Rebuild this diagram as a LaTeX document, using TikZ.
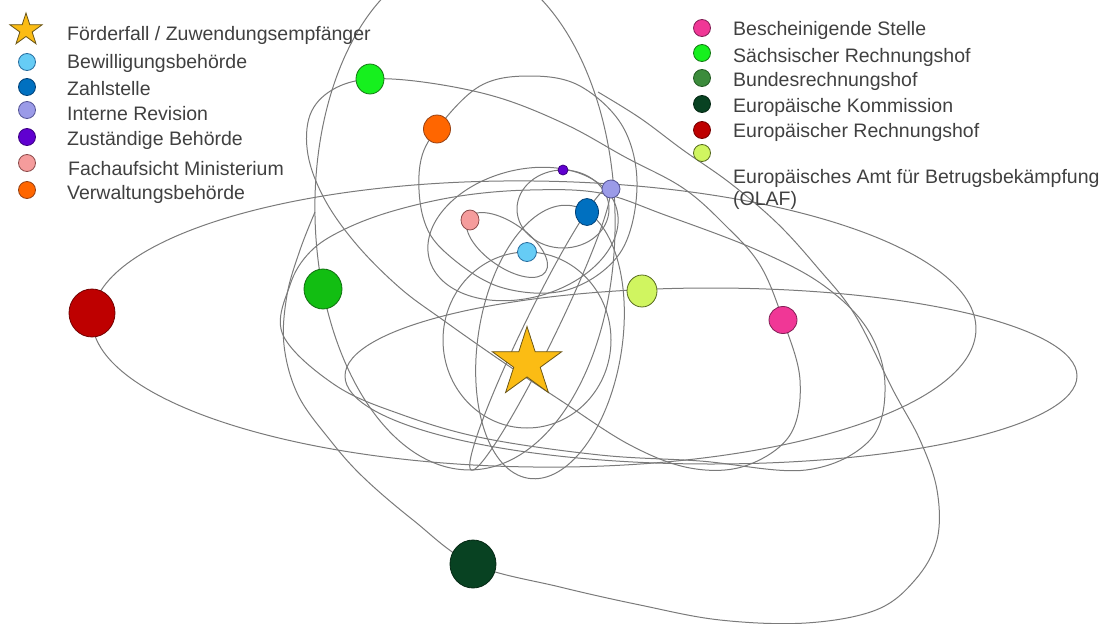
\documentclass[tikz,border=0pt]{standalone}
\usepackage{fontspec}
\setmainfont{Liberation Sans}
\usetikzlibrary{shapes.geometric}
\definecolor{orbitc}{RGB}{122,122,122}
\definecolor{txt}{RGB}{64,64,64}
\definecolor{cstar}{RGB}{251,188,20}\definecolor{dstar}{RGB}{105,85,25}
\definecolor{cbwb}{RGB}{102,204,245}\definecolor{dbwb}{RGB}{40,110,160}
\definecolor{czahl}{RGB}{0,112,192}\definecolor{dzahl}{RGB}{0,65,120}
\definecolor{crev}{RGB}{155,155,232}\definecolor{drev}{RGB}{85,85,150}
\definecolor{czust}{RGB}{96,0,208}\definecolor{dzust}{RGB}{60,0,130}
\definecolor{cfach}{RGB}{245,156,156}\definecolor{dfach}{RGB}{140,75,75}
\definecolor{cverw}{RGB}{255,102,0}\definecolor{dverw}{RGB}{150,65,20}
\definecolor{cbesch}{RGB}{240,55,150}\definecolor{dbesch}{RGB}{130,30,85}
\definecolor{csaechs}{RGB}{22,240,30}\definecolor{dsaechs}{RGB}{20,120,20}
\definecolor{cbund}{RGB}{60,140,60}\definecolor{dbund}{RGB}{35,90,35}
\definecolor{cbundd}{RGB}{18,190,18}\definecolor{dbundd}{RGB}{15,110,15}
\definecolor{cek}{RGB}{8,66,34}\definecolor{dek}{RGB}{5,40,20}
\definecolor{cerh}{RGB}{190,0,0}\definecolor{derh}{RGB}{115,0,0}
\definecolor{colaf}{RGB}{208,245,96}\definecolor{dolaf}{RGB}{85,105,30}
\begin{document}
\begin{tikzpicture}[x=1pt,y=-1pt,
  orbit/.style={draw=orbitc, line width=1pt},
  planet/.style={ellipse, inner sep=0pt, line width=0.8pt},
  legdot/.style={circle, inner sep=0pt, minimum size=17pt, line width=0.8pt},
  legtext/.style={anchor=base west, text=txt, inner sep=0pt, font=\fontsize{19.5}{23}\selectfont},
  sun/.style={star, star points=5, star point ratio=2.618, inner sep=0pt, fill=cstar, draw=dstar, line width=0.8pt}
]
\useasboundingbox (0,0) rectangle (1109,624);
\begin{scope}
\clip (0,0) rectangle (1109,624);
% large orbits
\draw[orbit, rotate around={-0.7:(534,324)}] (534,324) ellipse [x radius=442, y radius=143];
\draw[orbit] (711,376) ellipse [x radius=366, y radius=88];
\draw[orbit, rotate around={1.5:(465,215)}] (465,215) ellipse [x radius=150, y radius=255];
\draw[orbit] plot[smooth, tension=0.6] coordinates {(315,212) (300,250) (287,295) (284,345) (298,395) (330,440) (363,477) (413,520) (473,564) (560,587) (640,605) (720,620) (806,623) (876,610) (915,580) (937,540) (937,490) (920,440) (893,390) (855,315) (817,267) (777,223) (730,183) (683,150) (640,118) (598,92)};
\draw[orbit] plot[smooth cycle, tension=0.6] coordinates {(283,335) (290,285) (310,252) (343,230) (393,211) (460,196) (530,190) (600,193) (665,215) (757,250) (823,285) (868,330) (885,385) (870,440) (806,470) (700,461) (600,455) (483,438) (400,414) (335,385)};
\draw[orbit] plot[smooth cycle, tension=0.6] coordinates {(370,79) (430,83) (500,98) (567,125) (625,157) (683,188) (725,225) (760,265) (783,320) (800,380) (790,435) (745,466) (690,468) (630,445) (560,400) (500,360) (443,320) (400,288) (357,245) (325,200) (308,155) (310,115) (332,90)};
% inner orbits
\draw[orbit] plot[smooth cycle, tension=0.6] coordinates {(437,129) (420,165) (423,217) (445,252) (500,287) (567,290) (620,253) (637,187) (623,127) (580,86) (530,76) (480,86)};
\draw[orbit, rotate around={81:(550,342)}] (550,342) ellipse [x radius=138, y radius=72];
\draw[orbit, rotate around={64:(540,329)}] (540,329) ellipse [x radius=157, y radius=16];
\draw[orbit] (527,340) ellipse [x radius=84, y radius=88];
\draw[orbit, rotate around={15:(523,234)}] (523,234) ellipse [x radius=97, y radius=64];
\draw[orbit] (563,209) ellipse [x radius=46, y radius=39];
\draw[orbit, rotate around={-35:(507,245)}] (507,245) ellipse [x radius=47, y radius=22];
\end{scope}
% bodies
\node[sun, minimum size=73pt] (foerder) at (527,363) {};
\node[planet, minimum width=19pt, minimum height=19pt, fill=cbwb, draw=dbwb] (bwb) at (527,252) {};
\node[planet, minimum width=23pt, minimum height=27pt, fill=czahl, draw=dzahl] (zahl) at (587,212) {};
\node[planet, minimum width=18pt, minimum height=18pt, fill=crev, draw=drev] (rev) at (611,189) {};
\node[planet, minimum width=10pt, minimum height=10pt, fill=czust, draw=dzust] (zust) at (563,170) {};
\node[planet, minimum width=18pt, minimum height=20pt, fill=cfach, draw=dfach] (fach) at (470,220) {};
\node[planet, minimum width=27pt, minimum height=28pt, fill=cverw, draw=dverw] (verw) at (437,129) {};
\node[planet, minimum width=28pt, minimum height=30pt, fill=csaechs, draw=dsaechs] (saechs) at (370,79) {};
\node[planet, minimum width=38pt, minimum height=40pt, fill=cbundd, draw=dbundd] (bund) at (323,289) {};
\node[planet, minimum width=46pt, minimum height=48pt, fill=cek, draw=dek] (ek) at (473,564) {};
\node[planet, minimum width=46pt, minimum height=48pt, fill=cerh, draw=derh] (erh) at (92,313) {};
\node[planet, minimum width=30pt, minimum height=32pt, fill=colaf, draw=dolaf] (olaf) at (642,291) {};
\node[planet, minimum width=28pt, minimum height=27pt, fill=cbesch, draw=dbesch] (besch) at (783,320) {};
% legend left
\node[sun, minimum size=34pt] (lstar) at (26,30) {};
\node[legdot, fill=cbwb, draw=dbwb] (lbwb) at (27,62) {};
\node[legdot, fill=czahl, draw=dzahl] (lzahl) at (27,87) {};
\node[legdot, fill=crev, draw=drev] (lrev) at (27,110) {};
\node[legdot, fill=czust, draw=dzust] (lzust) at (27,137) {};
\node[legdot, fill=cfach, draw=dfach] (lfach) at (27,163) {};
\node[legdot, fill=cverw, draw=dverw] (lverw) at (27,190) {};
\node[legtext] (tfoerder) at (67,40) {Förderfall / Zuwendungsempfänger};
\node[legtext] (tbwb) at (67,68) {Bewilligungsbehörde};
\node[legtext] (tzahl) at (67,95) {Zahlstelle};
\node[legtext] (trev) at (67,120) {Interne Revision};
\node[legtext] (tzust) at (67,145) {Zuständige Behörde};
\node[legtext] (tfach) at (68,175) {Fachaufsicht Ministerium};
\node[legtext] (tverw) at (67,199) {Verwaltungsbehörde};
% legend right
\node[legdot, fill=cbesch, draw=dbesch] (lbesch) at (702,28) {};
\node[legdot, fill=csaechs, draw=dsaechs] (lsaechs) at (702,53) {};
\node[legdot, fill=cbund, draw=dbund] (lbund) at (702,78) {};
\node[legdot, fill=cek, draw=dek] (lek) at (702,104) {};
\node[legdot, fill=cerh, draw=derh] (lerh) at (702,130) {};
\node[legdot, fill=colaf, draw=dolaf] (lolaf) at (702,153) {};
\node[legtext] (tbesch) at (733,35) {Bescheinigende Stelle};
\node[legtext] (tsaechs) at (733,62) {Sächsischer Rechnungshof};
\node[legtext] (tbund) at (733,86) {Bundesrechnungshof};
\node[legtext] (tek) at (733,112) {Europäische Kommission};
\node[legtext] (terh) at (733,137) {Europäischer Rechnungshof};
\node[legtext] (tolaf) at (733,183) {Europäisches Amt für Betrugsbekämpfung};
\node[legtext] (tolaf2) at (733,205) {(OLAF)};
\end{tikzpicture}
\end{document}
